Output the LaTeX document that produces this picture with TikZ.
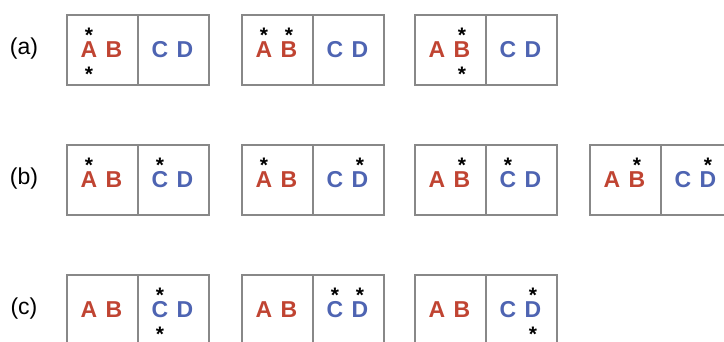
\documentclass[tikz,border=0pt]{standalone}
\usepackage{fontspec}
\setmainfont{Liberation Sans}
\definecolor{lred}{RGB}{192,68,50}
\definecolor{lblue}{RGB}{78,100,178}
\definecolor{bgray}{RGB}{136,136,136}
\newcommand\panel[3]{%
  \node[frame, anchor=north west] (#1) at (#2,#3) {};
  \draw[frame] (#1.north) -- (#1.south);
  \node[redl]  (#1A) at (#2+23,  #3+43.5) {A};
  \node[redl]  (#1B) at (#2+48,  #3+43.5) {B};
  \node[bluel] (#1C) at (#2+94,  #3+43.5) {C};
  \node[bluel] (#1D) at (#2+119, #3+43.5) {D};
}
\newcommand\astglyph{\raisebox{-10.9pt}{*}}
\newcommand\starup[2]{\node[astx] (#1#2u) at ([yshift=26.2pt]#1#2.base) {\astglyph};}
\newcommand\stardn[2]{\node[astx] (#1#2d) at ([yshift=-12.6pt]#1#2.base) {\astglyph};}
\begin{document}
\begin{tikzpicture}[x=1pt,y=-1pt,
  frame/.style={draw=bgray,line width=2pt,inner sep=0pt,minimum width=142pt,minimum height=70pt},
  letter/.style={inner sep=0pt,anchor=base,font=\fontsize{23}{23}\selectfont\bfseries},
  redl/.style={letter,text=lred},
  bluel/.style={letter,text=lblue},
  astx/.style={inner sep=0pt,anchor=center,text height=3.5pt,text depth=3.5pt,font=\fontsize{21}{21}\selectfont\bfseries},
  rowlabel/.style={inner sep=0pt,font=\fontsize{23}{23}\selectfont}]
\clip (0,0) rectangle (724,341);
% row labels
\node[rowlabel] (la) at (24,49)  {(a)};
\node[rowlabel] (lb) at (24,179) {(b)};
\node[rowlabel] (lc) at (24,309) {(c)};
% row (a)
\panel{a1}{66}{14}  \starup{a1}{A}\stardn{a1}{A}
\panel{a2}{241}{14} \starup{a2}{A}\starup{a2}{B}
\panel{a3}{414}{14} \starup{a3}{B}\stardn{a3}{B}
% row (b)
\panel{b1}{66}{144}  \starup{b1}{A}\starup{b1}{C}
\panel{b2}{241}{144} \starup{b2}{A}\starup{b2}{D}
\panel{b3}{414}{144} \starup{b3}{B}\starup{b3}{C}
\panel{b4}{589}{144} \starup{b4}{B}\starup{b4}{D}
% row (c)
\panel{c1}{66}{274}  \starup{c1}{C}\stardn{c1}{C}
\panel{c2}{241}{274} \starup{c2}{C}\starup{c2}{D}
\panel{c3}{414}{274} \starup{c3}{D}\stardn{c3}{D}
\end{tikzpicture}
\end{document}
